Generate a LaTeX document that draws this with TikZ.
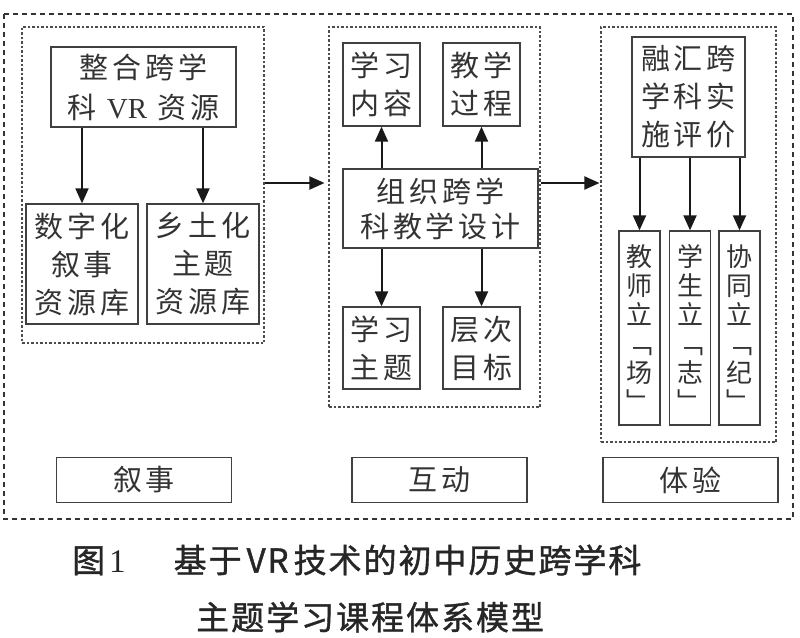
\documentclass[tikz,border=0pt]{standalone}
\usepackage{fontspec}
\usepackage{tikz}
\usetikzlibrary{arrows.meta}
\setmainfont{Noto Sans CJK SC}
\newfontfamily\boxfont[LetterSpace=13]{Noto Sans CJK SC}
\newfontfamily\capfont[LetterSpace=6,FakeBold=1.2]{Noto Sans CJK SC}
\newfontfamily\latserif{Liberation Serif}

\begin{document}
\begin{tikzpicture}[x=1pt,y=-1pt]
\tikzstyle{every node}+=[inner sep=0pt]
\tikzstyle{box}=[draw=black!75,line width=1.3pt,align=center,text=black!80,font=\boxfont\fontsize{29}{38}\selectfont]
\tikzstyle{grp}=[draw=black!70,line width=1.1pt,dash pattern=on 2.5pt off 2pt]
\tikzstyle{tagbox}=[box,minimum width=175pt,minimum height=45pt]
\tikzstyle{vbox}=[box,minimum width=41pt,minimum height=194pt,font=\fontsize{26}{29}\selectfont]
\tikzstyle{arw}=[draw=black!90,line width=2pt,-{Triangle[length=15pt,width=13pt]}]
\useasboundingbox (0,0) rectangle (800,637);
\draw [black!80,line width=2.4pt,dash pattern=on 5pt off 4pt] (4,14) rectangle (793,519);
% groups
\node [grp,minimum width=242pt,minimum height=316pt] (grpL) at (143,185) {};
\node [grp,minimum width=211pt,minimum height=380pt] (grpM) at (434.5,217) {};
\node [grp,minimum width=175pt,minimum height=415pt] (grpR) at (688.5,234.5) {};
% left
\node [box,minimum width=185pt,minimum height=80pt,font=\boxfont\fontsize{29}{40}\selectfont] (res) at (143.5,87) {整合跨学\\科 {\latserif VR} 资源};
\node [box,minimum width=112pt,minimum height=120pt] (lib1) at (82,264) {数字化\\叙事\\资源库};
\node [box,minimum width=112pt,minimum height=120pt] (lib2) at (203,264) {乡土化\\主题\\资源库};
\draw [arw] (res.south -| lib1) -- (lib1.north);
\draw [arw] (res.south -| lib2) -- (lib2.north);
% middle
\node [box,minimum width=77pt,minimum height=83pt] (content) at (381.5,84.5) {学习\\内容};
\node [box,minimum width=77pt,minimum height=83pt] (process) at (481.5,84.5) {教学\\过程};
\node [box,minimum width=195pt,minimum height=79pt,font=\boxfont\fontsize{29}{35}\selectfont] (design) at (440.5,208.5) {组织跨学\\科教学设计};
\node [box,minimum width=77pt,minimum height=82pt] (topic) at (381.5,348) {学习\\主题};
\node [box,minimum width=77pt,minimum height=82pt] (goal) at (481.5,348) {层次\\目标};
\draw [arw] (design.north -| content) -- (content.south);
\draw [arw] (design.north -| process) -- (process.south);
\draw [arw] (design.south -| topic) -- (topic.north);
\draw [arw] (design.south -| goal) -- (goal.north);
% right
\node [box,minimum width=113pt,minimum height=120pt] (evalb) at (688.5,97) {融汇跨\\学科实\\施评价};
\node [vbox] (teacher) at (639.5,328) {教\\师\\立\\﹁\\场\\﹂};
\node [vbox] (student) at (690,328) {学\\生\\立\\﹁\\志\\﹂};
\node [vbox] (collab) at (739.5,328) {协\\同\\立\\﹁\\纪\\﹂};
\draw [arw] (evalb.south -| teacher) -- (teacher.north);
\draw [arw] (evalb.south -| student) -- (student.north);
\draw [arw] (evalb.south -| collab) -- (collab.north);
% between groups
\coordinate (flow) at (0,183);
\draw [arw] (grpL.east |- flow) -- ([xshift=-4pt]grpM.west |- flow);
\draw [arw] (grpM.east |- flow) -- ([xshift=-1pt]grpR.west |- flow);
% tags
\node [tagbox] (tag1) at (144,480) {叙事};
\node [tagbox] (tag2) at (439.5,480) {互动};
\node [tagbox] (tag3) at (690.5,480) {体验};
% caption
\node [anchor=west,text=black!85,font=\capfont\fontsize{33}{33}\selectfont] (cap1) at (72,560) {图\hspace{4pt}{\latserif 1}\hspace{48pt}基于\hspace{5pt}VR\hspace{5pt}技术的初中历史跨学科};
\node [anchor=west,text=black!85,font=\capfont\fontsize{33}{33}\selectfont] (cap2) at (196,617) {主题学习课程体系模型};
\end{tikzpicture}
\end{document}
